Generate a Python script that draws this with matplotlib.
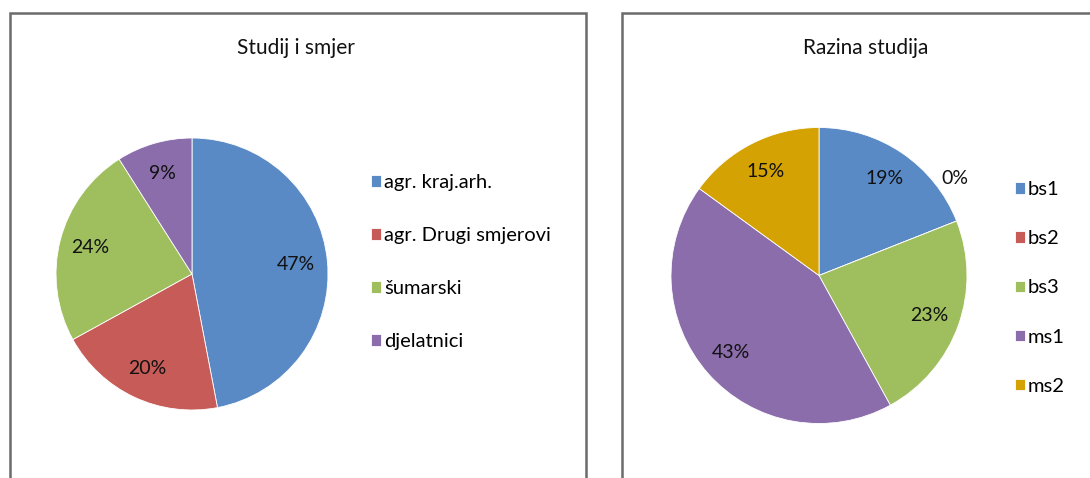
import matplotlib
matplotlib.use("Agg")
import matplotlib.pyplot as plt
from matplotlib.patches import Rectangle
import numpy as np

plt.rcParams['font.family'] = ['Lato', 'DejaVu Sans']

# Data
left_title = "Studij i smjer"
left_labels = ["agr. kraj.arh.", "agr. Drugi smjerovi", "šumarski", "djelatnici"]
left_values = [47, 20, 24, 9]

right_title = "Razina studija"
right_labels = ["bs1", "bs2", "bs3", "ms1", "ms2"]
right_values = [19, 0, 23, 43, 15]

left_colors = ["#5A8AC6", "#C75B58", "#9FBF5F", "#8A6DAA"]
right_colors = ["#5A8AC6", "#C75B58", "#9FBF5F", "#8A6DAA", "#D4A202"]

W, H = 1090, 478
fig = plt.figure(figsize=(W / 100, H / 100), dpi=100)


def px_axes(cx, cy, r):
    return fig.add_axes([(cx - r) / W, (H - cy - r) / H, 2 * r / W, 2 * r / H])


border_color = "#6B6B6B"
# panel frames
fig.patches.append(Rectangle((10 / W, -0.05), 576 / W, (H - 13) / H + 0.05,
                             transform=fig.transFigure, fill=False,
                             edgecolor=border_color, linewidth=1.8))
fig.patches.append(Rectangle((622 / W, -0.05), 600 / W, (H - 13) / H + 0.05,
                             transform=fig.transFigure, fill=False,
                             edgecolor=border_color, linewidth=1.8))


def draw_pie(cx, cy, r, values, colors, labels, pctdist, legend_pos, spacing):
    ax = px_axes(cx, cy, r)
    wedges, _ = ax.pie(values, colors=colors, startangle=90, counterclock=False,
                       radius=1.0, wedgeprops=dict(linewidth=0.6, edgecolor="white"))
    ax.set_xlim(-1, 1)
    ax.set_ylim(-1, 1)
    ax.set_aspect("equal")
    ax.axis("off")
    total = sum(values)
    for w, v in zip(wedges, values):
        mid = (w.theta1 + w.theta2) / 2
        if v > 0:
            d, a = pctdist, np.deg2rad(mid)
        else:
            d, a = 1.13, np.deg2rad(mid + 14)
        ax.text(d * np.cos(a), d * np.sin(a), f"{round(100 * v / total)}%",
                ha="center", va="center", fontsize=14, color="#111111", clip_on=False)
    fig.legend(wedges, labels, loc="upper left",
               bbox_to_anchor=(legend_pos[0] / W, 1 - legend_pos[1] / H),
               frameon=False, fontsize=14.5, handlelength=0.5, handleheight=0.5,
               handletextpad=0.15, labelspacing=spacing, borderpad=0, borderaxespad=0)
    return ax


draw_pie(192, 274, 136, left_values, left_colors, left_labels, 0.77, (371, 174), 1.79)
draw_pie(819, 275.5, 148, right_values, right_colors, right_labels, 0.79, (1015, 181), 1.6)

fig.text(296 / W, 1 - 48 / H, left_title, ha="center", va="center", fontsize=15, color="#111111")
fig.text(866 / W, 1 - 48 / H, right_title, ha="center", va="center", fontsize=15, color="#111111")

fig.savefig("out.png", dpi=100)
